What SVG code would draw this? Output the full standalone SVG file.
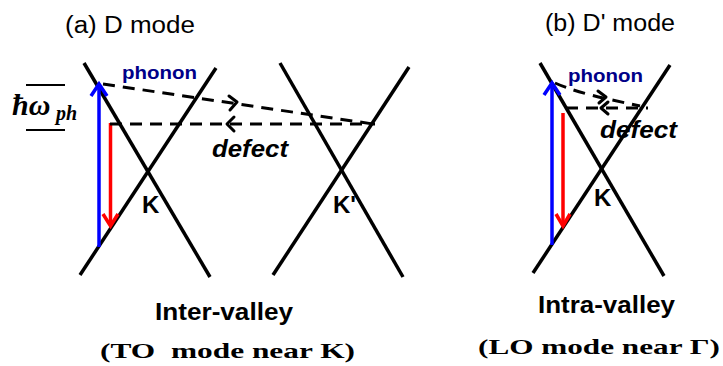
<svg xmlns="http://www.w3.org/2000/svg" width="723" height="366" viewBox="0 0 723 366">
<style>
.band{stroke:#000;stroke-width:3.5;fill:none;stroke-linecap:butt}
.dash{stroke:#000;stroke-width:3;fill:none;stroke-dasharray:12 8}
.chev{stroke:#000;stroke-width:3;fill:none;stroke-linecap:round;stroke-linejoin:round}
.blue{stroke:#0000FF;stroke-width:3.5;fill:none}
.red{stroke:#FF0000;stroke-width:3.5;fill:none}
.title{font-family:"Liberation Sans",Arial,sans-serif;font-size:23px;fill:#000}
.ph{font-family:"Liberation Sans",Arial,sans-serif;font-size:18px;font-weight:bold;fill:#000088}
.def{font-family:"Liberation Sans",Arial,sans-serif;font-size:23px;font-weight:bold;font-style:italic;fill:#000}
.k{font-family:"Liberation Sans",Arial,sans-serif;font-size:24px;font-weight:bold;fill:#000}
.cap{font-family:"Liberation Sans",Arial,sans-serif;font-size:23px;font-weight:bold;fill:#000}
.ser{font-family:"Liberation Serif","Times New Roman",serif;font-size:22px;font-weight:bold;fill:#000}
.hw{font-family:"Liberation Serif","Times New Roman",serif;font-weight:bold;font-style:italic;fill:#000}
</style>
<rect width="723" height="366" fill="#fff"/>

<g id="title-a"><text class="title" x="65" y="33" textLength="130" lengthAdjust="spacingAndGlyphs">(a) D mode</text></g>
<g id="title-b"><text class="title" x="545" y="31" textLength="130" lengthAdjust="spacingAndGlyphs">(b) D' mode</text></g>

<g id="valley-K">
<line class="band" x1="84" y1="63" x2="210" y2="277"/>
<line class="band" x1="80" y1="275" x2="216" y2="68"/>
<text class="k" x="142" y="213">K</text>
</g>
<g id="valley-Kp">
<line class="band" x1="280" y1="63" x2="403" y2="277"/>
<line class="band" x1="273" y1="275" x2="409" y2="67"/>
<text class="k" x="333" y="213">K'</text>
</g>
<g id="valley-K-b">
<line class="band" x1="540" y1="63" x2="664" y2="276"/>
<line class="band" x1="533" y1="273" x2="670" y2="65"/>
<text class="k" x="594" y="206">K</text>
</g>

<g id="energy-label">
<line x1="26" y1="85" x2="65" y2="85" stroke="#000" stroke-width="2"/>
<line x1="26" y1="130" x2="65" y2="130" stroke="#000" stroke-width="2"/>
<text class="hw" x="12" y="115" font-size="30">ħω</text>
<text class="hw" x="56" y="120" font-size="20">ph</text>
</g>

<g id="labels">
<text class="ph" x="122" y="79" textLength="75" lengthAdjust="spacingAndGlyphs">phonon</text>
<text class="def" x="212" y="157" textLength="76" lengthAdjust="spacingAndGlyphs">defect</text>
<text class="ph" x="568" y="82" textLength="75" lengthAdjust="spacingAndGlyphs">phonon</text>
<text class="def" x="600" y="138" textLength="77" lengthAdjust="spacingAndGlyphs">defect</text>
<text class="cap" x="155" y="320" textLength="138" lengthAdjust="spacingAndGlyphs">Inter-valley</text>
<text class="ser" x="100" y="358" textLength="255" lengthAdjust="spacingAndGlyphs" xml:space="preserve">(TO  mode near K)</text>
<text class="cap" x="538" y="313" textLength="137" lengthAdjust="spacingAndGlyphs">Intra-valley</text>
<text class="ser" x="478" y="354" textLength="242" lengthAdjust="spacingAndGlyphs">(LO mode near Γ)</text>
</g>

<g id="connectors">
<!-- (a) -->
<line class="blue" x1="99" y1="247" x2="99" y2="86"/>
<polyline class="blue" points="91,96 99,84 107,96" stroke-linejoin="miter"/>
<line class="red" x1="110.5" y1="123" x2="110.5" y2="224"/>
<polyline class="red" points="103,214 110.5,226 118,214"/>
<line class="dash" x1="103" y1="84" x2="373" y2="124"/>
<polyline class="chev" points="229,96 237,102 230,110"/>
<line class="dash" x1="110" y1="124" x2="375" y2="124"/>
<polyline class="chev" points="234,117 227,124 234,131"/>
<!-- (b) -->
<line class="blue" x1="552" y1="245" x2="552" y2="85"/>
<polyline class="blue" points="544,95 552,83 560,95"/>
<line class="red" x1="563" y1="113" x2="563" y2="224"/>
<polyline class="red" points="556,214 563,226 570,214"/>
<path class="dash" d="M555,83 Q575,92 612,100 L640,106"/>
<polyline class="chev" points="598,91 606,97 599,103"/>
<line class="dash" x1="566" y1="108" x2="648" y2="108" stroke-dasharray="10 6"/>
<polyline class="chev" points="608,102 601,108 608,114"/>
</g>
</svg>
